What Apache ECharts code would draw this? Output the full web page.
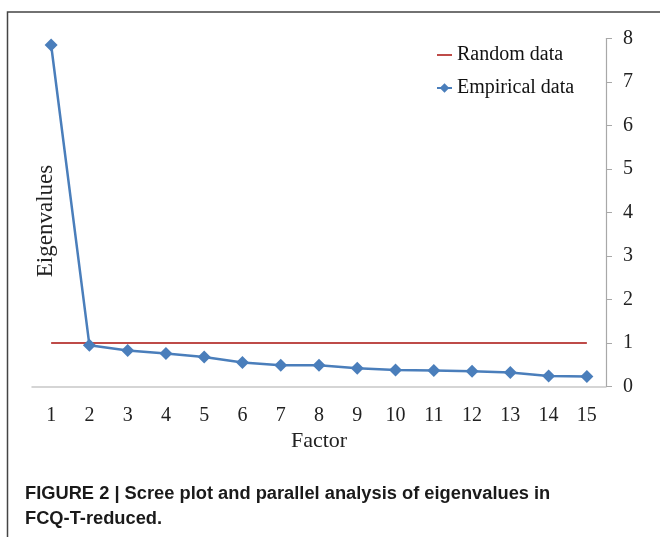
<!DOCTYPE html>
<html>
<head>
<meta charset="utf-8">
<script src="https://cdn.jsdelivr.net/npm/echarts@6/dist/echarts.min.js"></script>
<style>html,body{margin:0;padding:0;background:#fff;}#c{width:660px;height:537px;}</style>
</head>
<body>
<div id="c"></div>
<script>
const factors = ['1','2','3','4','5','6','7','8','9','10','11','12','13','14','15'];
const randomData = [1,1,1,1,1,1,1,1,1,1,1,1,1,1,1];
const empiricalData = [7.85,0.95,0.83,0.76,0.68,0.55,0.49,0.49,0.42,0.38,0.37,0.35,0.32,0.24,0.23];
const yTicks = [0,1,2,3,4,5,6,7,8];

const serif = '"Liberation Serif","DejaVu Serif",serif';
const chart = echarts.init(document.getElementById('c'));
chart.setOption({
  animation: false,
  backgroundColor: '#fff',
  grid: {left: 32, right: 54, top: 38.5, bottom: 150.5},
  legend: {
    left: 436, top: 45, padding: 0, orient: 'vertical', itemGap: 13,
    itemWidth: 15, itemHeight: 12,
    textStyle: {fontFamily: serif, fontSize: 20, color: '#111'},
    data: [
      {name: 'Random data', icon: 'path://M0,0 L15,0 L15,2 L0,2 Z'},
      {name: 'Empirical data'}
    ]
  },
  xAxis: {
    type: 'category', data: factors, boundaryGap: true,
    name: 'Factor', nameLocation: 'middle', nameGap: 41,
    nameTextStyle: {fontFamily: serif, fontSize: 22, color: '#222'},
    axisLine: {lineStyle: {color: '#c8c8c8', width: 1.5}},
    axisTick: {show: false},
    axisLabel: {fontFamily: serif, fontSize: 20, color: '#222', margin: 19}
  },
  yAxis: {
    type: 'value', position: 'right', min: yTicks[0], max: yTicks[yTicks.length-1], interval: 1,
    axisLine: {show: true, lineStyle: {color: '#a8a8a8', width: 1.2}},
    axisTick: {show: true, inside: false, length: 6, lineStyle: {color: '#a8a8a8'}},
    splitLine: {show: false},
    axisLabel: {fontFamily: serif, fontSize: 20, color: '#222', margin: 17}
  },
  series: [
    {name: 'Random data', type: 'line', data: randomData, symbol: 'none',
     lineStyle: {color: '#be4b48', width: 2}, itemStyle: {color: '#be4b48'}},
    {name: 'Empirical data', type: 'line', data: empiricalData, symbol: 'diamond', symbolSize: 13,
     lineStyle: {color: '#4a7ebb', width: 2.5}, itemStyle: {color: '#4a7ebb'}}
  ],
  graphic: [
    {type: 'rect', shape: {x: 7.5, y: 12, width: 700, height: 600}, style: {fill: 'none', stroke: '#444', lineWidth: 1.5}},
    {type: 'text', x: 45.5, y: 221, rotation: Math.PI/2, style: {text: 'Eigenvalues', font: '23px ' + serif, fill: '#222', align: 'center', verticalAlign: 'middle'}},
    {type: 'text', left: 25, top: 481, style: {text: 'FIGURE 2 | Scree plot and parallel analysis of eigenvalues in\nFCQ-T-reduced.', font: 'bold 18.3px "Liberation Sans",Arial,sans-serif', fill: '#1a1a1a', lineHeight: 25}}
  ]
});
</script>
</body>
</html>
